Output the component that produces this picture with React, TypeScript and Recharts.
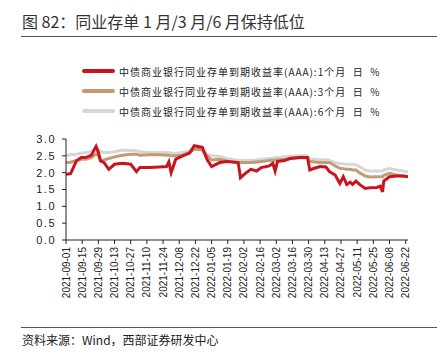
import { LineChart, Line, XAxis, YAxis } from "recharts";

const dates = [
  "2021-09-01", "2021-09-05", "2021-09-10", "2021-09-14", "2021-09-18", "2021-09-23",
  "2021-09-27", "2021-09-29", "2021-10-01", "2021-10-04", "2021-10-08", "2021-10-13",
  "2021-10-20", "2021-10-27", "2021-11-01", "2021-11-04", "2021-11-12", "2021-11-21",
  "2021-11-27", "2021-11-29", "2021-12-01", "2021-12-05", "2021-12-11", "2021-12-17",
  "2021-12-21", "2021-12-28", "2022-01-01", "2022-01-05", "2022-01-12", "2022-01-18",
  "2022-01-28", "2022-01-30", "2022-02-04", "2022-02-08", "2022-02-13", "2022-02-17",
  "2022-02-24", "2022-02-27", "2022-03-01", "2022-03-03", "2022-03-09", "2022-03-14",
  "2022-03-22", "2022-03-29", "2022-03-31", "2022-04-04", "2022-04-09", "2022-04-14",
  "2022-04-17", "2022-04-22", "2022-04-26", "2022-04-29", "2022-05-02", "2022-05-05",
  "2022-05-07", "2022-05-10", "2022-05-13", "2022-05-18", "2022-05-22", "2022-05-28",
  "2022-05-31", "2022-06-02", "2022-06-03", "2022-06-08", "2022-06-14", "2022-06-20",
  "2022-06-24",
];

// 1个月
const rate1M = [
  1.95, 1.97, 2.35, 2.45, 2.45, 2.52,
  2.78, 2.6, 2.35, 2.3, 2.1, 2.25,
  2.28, 2.25, 2.03, 2.15, 2.15, 2.17,
  2.18, 2.32, 2.0, 2.4, 2.5, 2.58,
  2.8, 2.75, 2.4, 2.18, 2.3, 2.33,
  2.3, 1.85, 2.0, 2.1, 2.05, 2.15,
  2.2, 2.28, 2.05, 2.33, 2.36, 2.42,
  2.45, 2.45, 2.08, 2.13, 2.18, 2.17,
  2.03, 1.93, 1.68, 1.88, 1.65, 1.72,
  1.65, 1.75, 1.65, 1.53, 1.55, 1.56,
  1.6, 1.43, 1.75, 1.88, 1.9, 1.9,
  1.88,
];

// 3个月
const rate3M = [
  2.3, 2.31, 2.36, 2.4, 2.4, 2.45,
  2.55, 2.5, 2.35, 2.38, 2.42, 2.47,
  2.52, 2.55, 2.55, 2.52, 2.53, 2.53,
  2.52, 2.52, 2.5, 2.5, 2.52, 2.6,
  2.7, 2.67, 2.5, 2.38, 2.4, 2.35,
  2.3, 2.3, 2.3, 2.3, 2.32, 2.33,
  2.36, 2.37, 2.37, 2.38, 2.4, 2.43,
  2.44, 2.44, 2.33, 2.32, 2.3, 2.3,
  2.3, 2.2, 2.13, 2.12, 2.1, 2.1,
  2.08, 2.08, 2.0, 1.9, 1.87, 1.88,
  1.88, 1.88, 1.92, 1.98, 1.93, 1.9,
  1.88,
];

// 6个月
const rate6M = [
  2.5, 2.53, 2.55, 2.58, 2.6, 2.62,
  2.75, 2.7, 2.62, 2.6, 2.6, 2.62,
  2.67, 2.66, 2.65, 2.62, 2.6, 2.6,
  2.6, 2.6, 2.58, 2.58, 2.6, 2.65,
  2.72, 2.7, 2.55, 2.5, 2.48, 2.42,
  2.37, 2.37, 2.36, 2.37, 2.38, 2.4,
  2.42, 2.43, 2.44, 2.45, 2.47, 2.49,
  2.5, 2.5, 2.4, 2.4, 2.38, 2.38,
  2.36, 2.3, 2.27, 2.26, 2.25, 2.25,
  2.25, 2.24, 2.18, 2.08, 2.05, 2.05,
  2.05, 2.05, 2.08, 2.12, 2.08, 2.05,
  2.02,
];

const tickDates = [
  "2021-09-01", "2021-09-15", "2021-09-29", "2021-10-13", "2021-10-27", "2021-11-10",
  "2021-11-24", "2021-12-08", "2021-12-22", "2022-01-05", "2022-01-19", "2022-02-02",
  "2022-02-16", "2022-03-02", "2022-03-16", "2022-03-30", "2022-04-13", "2022-04-27",
  "2022-05-11", "2022-05-25", "2022-06-08", "2022-06-22",
];

const yTicks = [0, 0.5, 1, 1.5, 2, 2.5, 3];

const series = [
  { key: "m6", label: "中债商业银行同业存单到期收益率(AAA):6个月  日  %", color: "#d6d6d6" },
  { key: "m3", label: "中债商业银行同业存单到期收益率(AAA):3个月  日  %", color: "#c39b72" },
  { key: "m1", label: "中债商业银行同业存单到期收益率(AAA):1个月  日  %", color: "#c8141e" },
];

const legendOrder = ["m1", "m3", "m6"];

const data = dates.map((d, i) => ({
  t: Date.parse(d),
  m1: rate1M[i],
  m3: rate3M[i],
  m6: rate6M[i],
}));

const fmtDate = (ts: number) => {
  const d = new Date(ts);
  const mm = String(d.getUTCMonth() + 1).padStart(2, "0");
  const dd = String(d.getUTCDate()).padStart(2, "0");
  return `${d.getUTCFullYear()}-${mm}-${dd}`;
};

const axisFont = "'Liberation Sans', Arial, sans-serif";
const cjkFont = "'Noto Sans CJK SC', 'Noto Sans', sans-serif";

function DateTick({ x, y, payload }: { x?: number; y?: number; payload?: { value: number } }) {
  if (x == null || y == null || !payload) return null;
  return (
    <text
      x={x}
      y={y}
      transform={`rotate(-90 ${x} ${y})`}
      textAnchor="end"
      dy="0.35em"
      fontSize={10}
      fill="#222"
      fontFamily={axisFont}
    >
      {fmtDate(payload.value)}
    </text>
  );
}

export default function App() {
  return (
    <div
      style={{
        position: "absolute",
        left: 0,
        top: 0,
        width: 447,
        height: 354,
        background: "#fff",
        fontFamily: cjkFont,
        color: "#222",
      }}
    >
      <div style={{ position: "absolute", left: 22, top: 10, fontSize: 16, lineHeight: "22px", whiteSpace: "pre", color: "#333" }}>
        图 82：同业存单 1 月/3 月/6 月保持低位
      </div>
      <div style={{ position: "absolute", left: 21, top: 36, width: 416, height: 1, background: "#555" }} />

      {legendOrder.map((k, i) => {
        const s = series.find((x) => x.key === k)!;
        return (
          <div
            key={k}
            style={{ position: "absolute", left: 82, top: 64 + i * 20, height: 14, display: "flex", alignItems: "center" }}
          >
            <div style={{ width: 33, height: 4, background: s.color, borderRadius: 2 }} />
            <span style={{ marginLeft: 4, fontSize: 10, letterSpacing: 1, whiteSpace: "pre", color: "#222" }}>
              {s.label}
            </span>
          </div>
        );
      })}

      <div style={{ position: "absolute", left: 0, top: 0 }}>
        <LineChart
          width={447}
          height={354}
          data={data}
          margin={{ top: 139, right: 39, bottom: 44, left: 20 }}
        >
          <XAxis
            dataKey="t"
            type="number"
            scale="time"
            domain={[Date.parse("2021-09-01"), Date.parse("2022-06-24")]}
            ticks={tickDates.map((d) => Date.parse(d))}
            tick={<DateTick />}
            tickSize={4}
            tickMargin={3}
            height={70}
            interval={0}
            stroke="#222"
            allowDataOverflow
          />
          <YAxis
            domain={[0, 3]}
            ticks={yTicks}
            tickFormatter={(v: number) => v.toFixed(1)}
            tick={{ fontSize: 11, fill: "#222", fontFamily: axisFont, letterSpacing: 1.5 }}
            tickSize={4}
            tickMargin={6}
            width={46}
            stroke="#222"
            interval={0}
          />
          {series.map((s) => (
            <Line
              key={s.key}
              dataKey={s.key}
              stroke={s.color}
              strokeWidth={3}
              dot={false}
              type="linear"
              isAnimationActive={false}
            />
          ))}
        </LineChart>
      </div>

      <div style={{ position: "absolute", left: 21, top: 327, width: 416, height: 1, background: "#555" }} />
      <div style={{ position: "absolute", left: 22, top: 332, fontSize: 12, lineHeight: "16px", whiteSpace: "pre" }}>
        资料来源：Wind，西部证券研发中心
      </div>
    </div>
  );
}
